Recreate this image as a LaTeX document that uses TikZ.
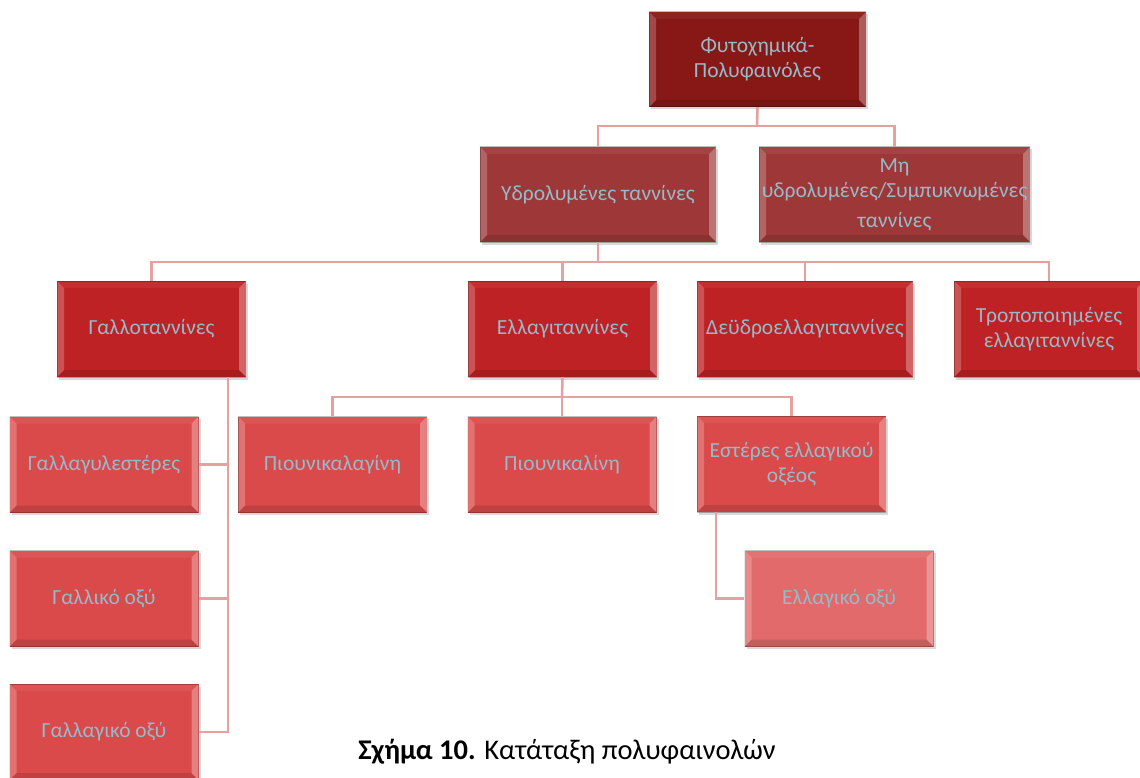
\documentclass[tikz,border=0pt]{standalone}
\usepackage{fontspec}
\setmainfont{Carlito}
\usetikzlibrary{shadows}
\definecolor{cA}{RGB}{135,24,22}
\definecolor{cB}{RGB}{158,56,56}
\definecolor{cC}{RGB}{190,34,37}
\definecolor{cD}{RGB}{218,74,74}
\definecolor{cE}{RGB}{226,106,106}
\definecolor{txt}{RGB}{150,186,202}
\definecolor{link}{RGB}{230,160,160}
\tikzset{
  bx/.style={draw=none, inner sep=1pt, minimum width=189, minimum height=96,
    font=\fontsize{21.5}{25}\selectfont, text=txt, align=center,
    drop shadow={shadow xshift=2pt, shadow yshift=-2.5pt, opacity=0.3},
    path picture={
      \fill[white,opacity=0.06] (path picture bounding box.north west) -- (path picture bounding box.north east) -- ([shift={(-7pt,-7pt)}]path picture bounding box.north east) -- ([shift={(7pt,-7pt)}]path picture bounding box.north west) -- cycle;
      \fill[black,opacity=0.12] (path picture bounding box.south west) -- (path picture bounding box.south east) -- ([shift={(-7pt,7pt)}]path picture bounding box.south east) -- ([shift={(7pt,7pt)}]path picture bounding box.south west) -- cycle;
      \fill[white,opacity=0.22] (path picture bounding box.north west) -- (path picture bounding box.south west) -- ([shift={(7pt,7pt)}]path picture bounding box.south west) -- ([shift={(7pt,-7pt)}]path picture bounding box.north west) -- cycle;
      \fill[white,opacity=0.30] (path picture bounding box.north east) -- (path picture bounding box.south east) -- ([shift={(-7pt,7pt)}]path picture bounding box.south east) -- ([shift={(-7pt,-7pt)}]path picture bounding box.north east) -- cycle;
      \draw[black,opacity=0.25,line width=1pt] (path picture bounding box.north west) rectangle (path picture bounding box.south east);
    }},
  ln/.style={draw=link, line width=2.6pt}
}
\begin{document}
\begin{tikzpicture}[x=1pt,y=-1pt]
\useasboundingbox (0,0) rectangle (1140,778);
\coordinate (j1) at (757,126);
\coordinate (j2) at (598,262);
\coordinate (j3) at (562,397);
% nodes
\node[bx, fill=cA, minimum width=217, minimum height=95] (root) at (757.5,59.5) {Φυτοχημικά-\\Πολυφαινόλες};
\node[bx, fill=cB, minimum width=236, minimum height=95] (hyd) at (598,194.5) {Υδρολυμένες ταννίνες};
\node[bx, fill=cB, minimum width=271, minimum height=95, inner sep=0pt] (non) at (894.5,194.5) {Μη\\υδρολυμένες/Συμπυκνωμένες\\[5pt]ταννίνες};
\node[bx, fill=cC] (gallo) at (151.5,329) {Γαλλοταννίνες};
\node[bx, fill=cC] (ella) at (562.5,329) {Ελλαγιταννίνες};
\node[bx, fill=cC, minimum width=216] (dehy) at (805,329) {Δεϋδροελλαγιταννίνες};
\node[bx, fill=cC, minimum width=190] (trop) at (1049,329) {Τροποποιημένες\\ελλαγιταννίνες};
\node[bx, fill=cD] (galla) at (104,464.5) {Γαλλαγυλεστέρες};
\node[bx, fill=cD] (punl) at (332.5,464.5) {Πιουνικαλαγίνη};
\node[bx, fill=cD] (punc) at (562,464.5) {Πιουνικαλίνη};
\node[bx, fill=cD] (est) at (791.5,464) {Εστέρες ελλαγικού\\οξέος};
\node[bx, fill=cD] (gallic) at (104,598.5) {Γαλλικό οξύ};
\node[bx, fill=cD] (gallag) at (104,732) {Γαλλαγικό οξύ};
\node[bx, fill=cE] (ellag) at (839,598.5) {Ελλαγικό οξύ};
% links
\draw[ln] (root.south) -- (j1);
\draw[ln] (hyd.north) |- (j1) -| (non.north);
\draw[ln] (gallo.north) |- (j2) -| (trop.north);
\draw[ln] (j2) -- (hyd.south);
\draw[ln] (ella.north) -- (ella.north |- j2);
\draw[ln] (dehy.north) -- (dehy.north |- j2);
\draw[ln] (ella.south) -- (j3);
\draw[ln] (punl.north) |- (j3) -| (est.north);
\draw[ln] (punc.north) -- (j3);
\coordinate (gv) at (228,377);
\draw[ln] (gv) |- (gallag.east);
\draw[ln] (galla.east) -- (galla.east -| gv);
\draw[ln] (gallic.east) -- (gallic.east -| gv);
\coordinate (ev) at (716,512);
\draw[ln] (ev) |- (ellag.west);
\node[font=\fontsize{28.5}{32}\selectfont, anchor=center] (cap) at (567,752) {\textbf{Σχήμα 10.} Κατάταξη πολυφαινολών};
\end{tikzpicture}
\end{document}
